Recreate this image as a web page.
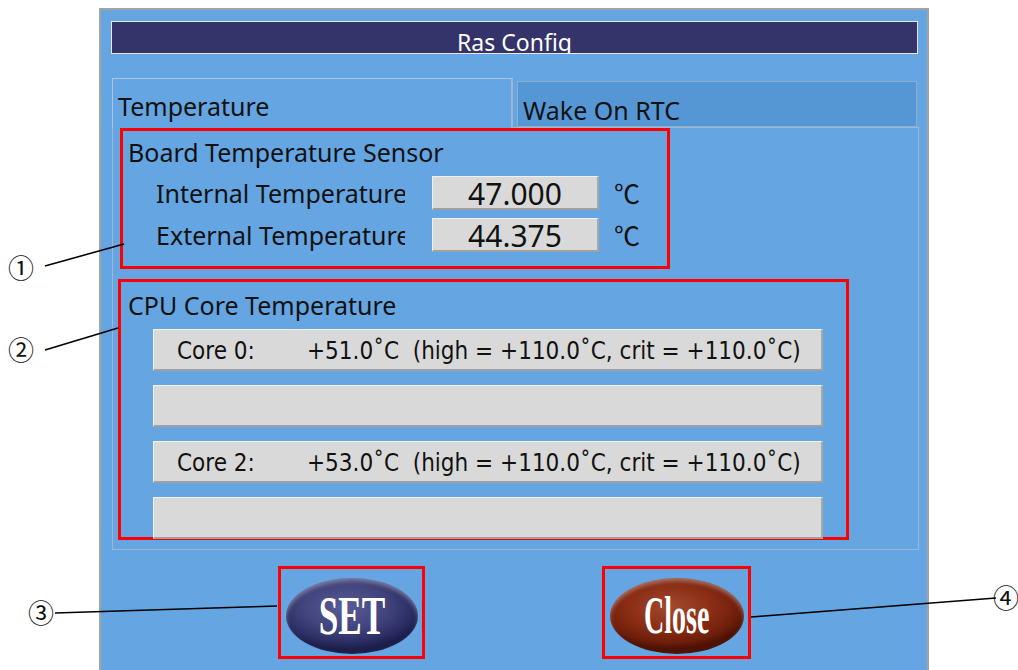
<!DOCTYPE html>
<html>
<head>
<meta charset="utf-8">
<script src="https://cdn.jsdelivr.net/npm/chart.js@4.4.0/dist/chart.umd.min.js"></script>
<style>
html,body{margin:0;padding:0;background:#fff;width:1018px;height:670px;overflow:hidden;font-family:"Noto Sans",sans-serif;}
.abs{position:absolute;}
#win{left:99px;top:8px;width:830px;height:670px;background:#64a5e2;border:2px solid #a3a3a3;box-sizing:border-box;border-bottom:none;}
#title{left:111px;top:21px;width:807px;height:33px;background:#34336a;border:1px solid #e8e8e8;box-sizing:border-box;overflow:hidden;color:#fff;font-size:23px;text-align:center;line-height:41px;}
#tab1{left:112px;top:78px;width:401px;height:50px;border:1px solid #a9c6e2;border-bottom:none;border-right:2px solid #9ab8d6;box-sizing:border-box;font-size:25px;color:#111;padding-left:5px;line-height:54px;background:#64a5e2;}
#tab2{left:517px;top:81px;width:400px;height:46px;background:#5596d5;border:1px solid #8eaed0;box-sizing:border-box;font-size:25px;color:#111;padding-left:5px;line-height:56px;}
#panel{left:112px;top:127px;width:807px;height:423px;border:1px solid #9bb9d6;box-sizing:border-box;}
.red{border:3px solid #f00;box-sizing:border-box;}
.lbl{font-size:25px;color:#111;white-space:nowrap;}
.val{background:#d9d9d9;border:1px solid #f0f0f0;border-bottom:2px solid #a0a0a0;border-right:2px solid #a8a8a8;box-sizing:border-box;font-size:30px;text-align:center;color:#111;}
.row{background:#d9d9d9;border:1px solid #f2f2f2;border-bottom:2px solid #a0a0a0;border-right:2px solid #a8a8a8;box-sizing:border-box;font-family:"DejaVu Sans Condensed","Noto Sans",sans-serif;font-size:24px;color:#111;white-space:nowrap;}
.btn{border-radius:50%;color:#fff;font-family:"Liberation Serif",serif;font-weight:bold;text-align:center;}
.btn span{display:inline-block;}
</style>
</head>
<body>
<div class="abs" id="win"></div>
<div class="abs" id="title">Ras Config</div>
<div class="abs" id="panel"></div>
<div class="abs" id="tab2">Wake On RTC</div>
<div class="abs" id="tab1">Temperature</div>
<div id="content"></div>
<canvas id="lines" class="abs" width="1018" height="670" style="left:0;top:0;pointer-events:none;"></canvas>
<script>
// ---- data ----
const boardLabels = ["Internal Temperature", "External Temperature"];
const boardValues = ["47.000", "44.375"];
const coreLabels = ["Core 0:", "", "Core 2:", ""];
const coreTemps = ["+51.0˚C", "", "+53.0˚C", ""];
const coreHigh = ["+110.0˚C", "", "+110.0˚C", ""];
const coreCrit = ["+110.0˚C", "", "+110.0˚C", ""];
const buttonLabels = ["SET", "Close"];
const callouts = ["①", "②", "③", "④"];

const c = document.getElementById('content');
function add(html){ c.insertAdjacentHTML('beforeend', html); }

// box 1
add('<div class="abs red" style="left:120px;top:128px;width:550px;height:141px;"></div>');
add('<div class="abs lbl" style="left:128px;top:135px;line-height:34px;">Board Temperature Sensor</div>');
boardLabels.forEach((l,i)=>{
  const y = 176 + i*42;
  add(`<div class="abs lbl" style="left:156px;top:${y}px;width:249px;overflow:hidden;line-height:34px;">${l}</div>`);
  add(`<div class="abs val" style="left:432px;top:${y}px;width:167px;height:34px;line-height:34px;">${boardValues[i]}</div>`);
  add(`<div class="abs lbl" style="left:614px;top:${y}px;line-height:34px;font-size:26px;font-family:'Noto Sans CJK JP';">℃</div>`);
});

// box 2
add('<div class="abs red" style="left:118px;top:279px;width:731px;height:261px;"></div>');
add('<div class="abs lbl" style="left:128px;top:288px;line-height:34px;">CPU Core Temperature</div>');
coreLabels.forEach((l,i)=>{
  const y = 329 + i*56;
  let inner = '';
  if (l) inner = `<span class="abs" style="left:23px;top:0;">${l}</span><span class="abs" style="left:153px;top:0;">${coreTemps[i]}&nbsp; (high = ${coreHigh[i]}, crit = ${coreCrit[i]})</span>`;
  add(`<div class="abs row" style="left:153px;top:${y}px;width:670px;height:42px;line-height:42px;">${inner}</div>`);
});

// buttons
add('<div class="abs red" style="left:278px;top:566px;width:147px;height:93px;"></div>');
add('<div class="abs red" style="left:602px;top:566px;width:149px;height:93px;"></div>');
add(`<div class="abs btn" style="left:286px;top:578px;width:132px;height:76px;line-height:76px;font-size:55px;background:radial-gradient(ellipse 60% 55% at 45% 38%, #5a5c97 0%, #41437c 55%, #2b2d63 85%, #1d1f4b 100%);box-shadow:inset 0 3px 4px rgba(255,255,255,0.35);"><span style="transform:scaleX(0.64)">${buttonLabels[0]}</span></div>`);
add(`<div class="abs btn" style="left:610px;top:578px;width:134px;height:76px;line-height:76px;font-size:52px;background:radial-gradient(ellipse 60% 55% at 45% 38%, #a24a2e 0%, #8a2c14 55%, #6e1e0a 85%, #4e1204 100%);box-shadow:inset 0 3px 4px rgba(255,255,255,0.35);"><span style="transform:scaleX(0.54)">${buttonLabels[1]}</span></div>`);

// callout labels
const cpos = [[8,252],[8,334],[28,597],[993,582]];
callouts.forEach((t,i)=>{
  add(`<div class="abs" style="left:${cpos[i][0]}px;top:${cpos[i][1]}px;font-size:26px;line-height:30px;color:#111;font-family:'Noto Sans CJK JP';">${t}</div>`);
});

const ctx = document.getElementById('lines').getContext('2d');
ctx.strokeStyle = '#000'; ctx.lineWidth = 1.6;
[[[45,266],[124,244]],[[45,350],[118,328]],[[55,613],[277,606]],[[751,617],[996,598]]].forEach(([a,b])=>{
  ctx.beginPath(); ctx.moveTo(a[0],a[1]); ctx.lineTo(b[0],b[1]); ctx.stroke();
});
</script>
</body>
</html>
